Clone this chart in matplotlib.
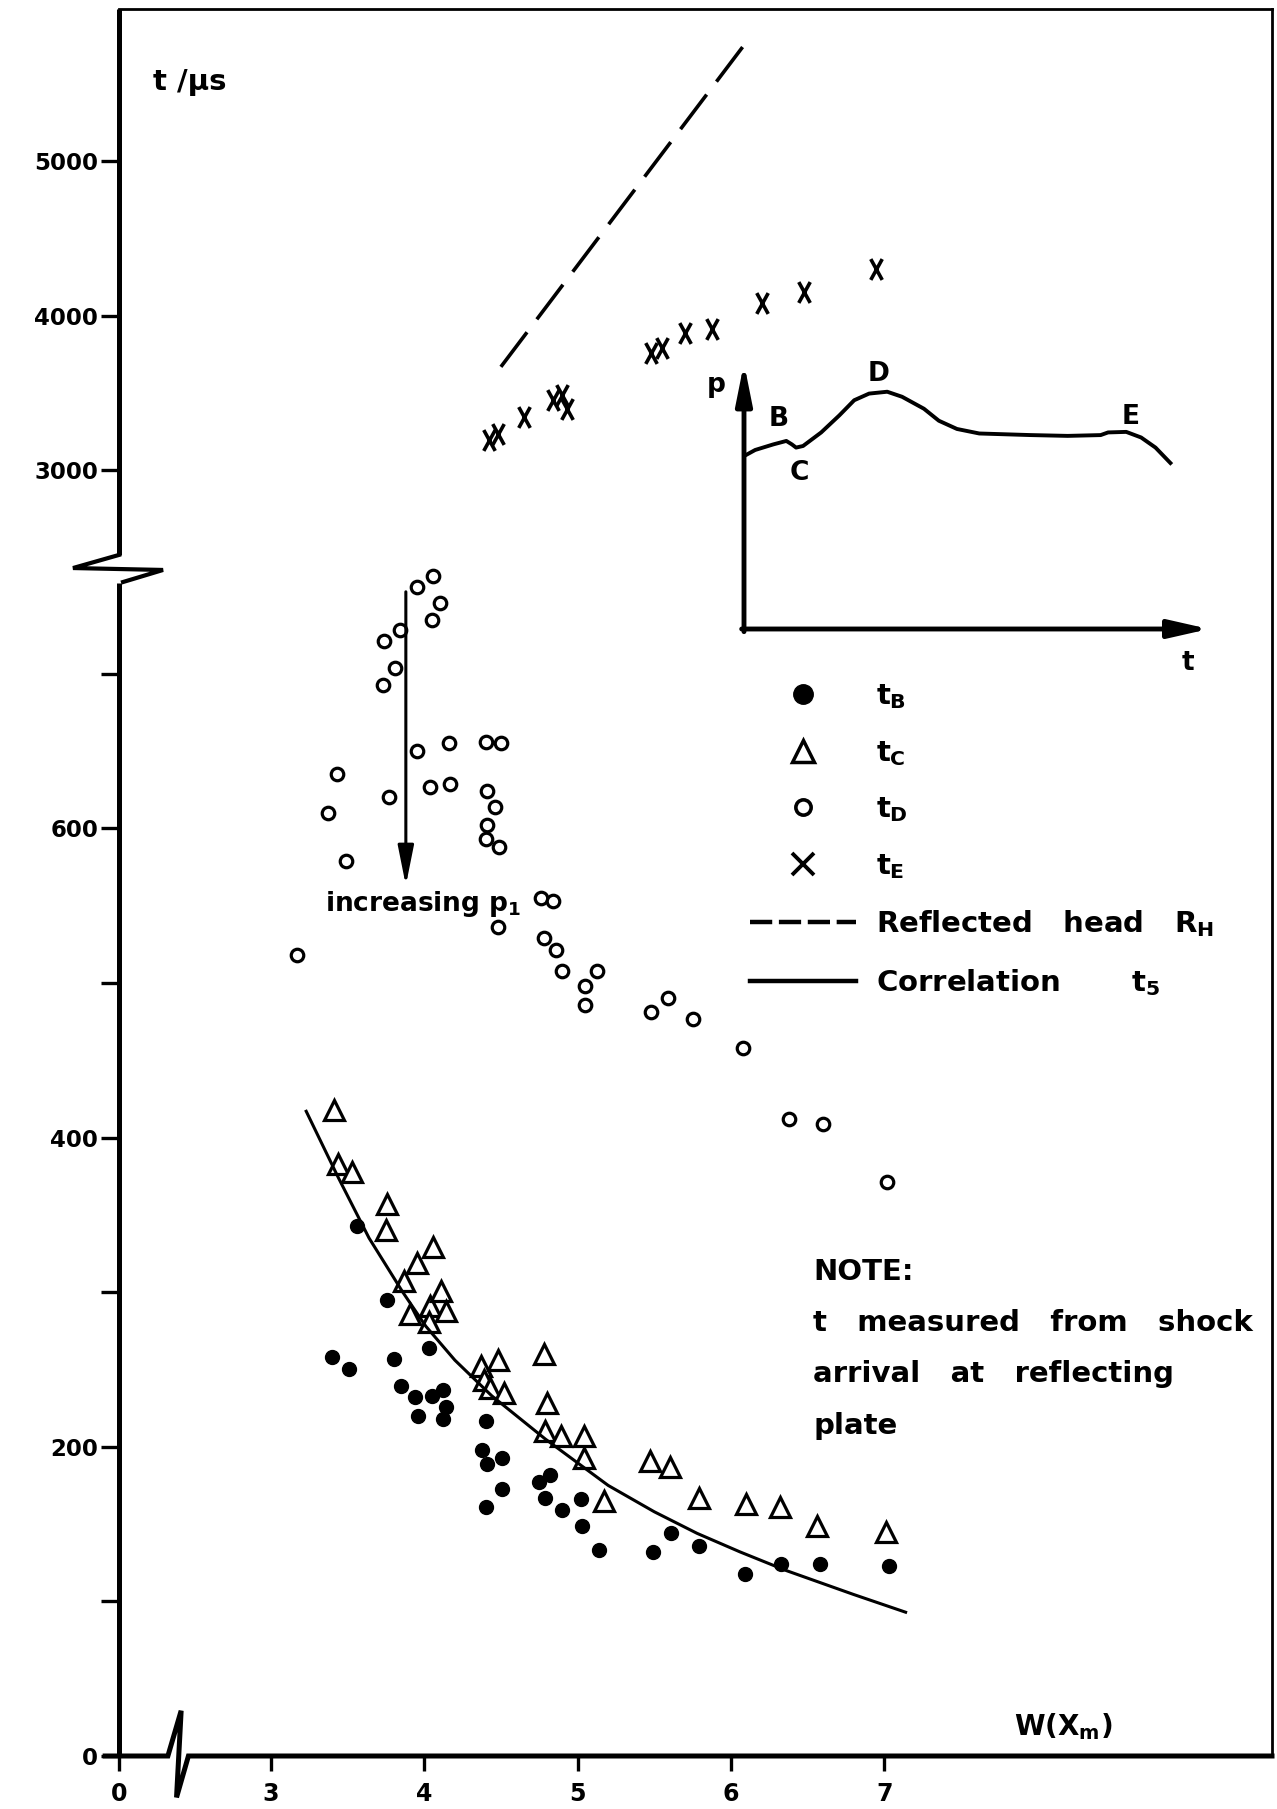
import numpy as np
import matplotlib
matplotlib.use('Agg')
import matplotlib.pyplot as plt
from matplotlib.path import Path
from matplotlib.lines import Line2D

plt.rcParams['font.family'] = 'DejaVu Sans'
plt.rcParams['font.weight'] = 'bold'
plt.rcParams['axes.labelweight'] = 'bold'
plt.rcParams['mathtext.fontset'] = 'custom'
plt.rcParams['mathtext.rm'] = 'DejaVu Sans:bold'
plt.rcParams['mathtext.it'] = 'DejaVu Sans:bold'
plt.rcParams['mathtext.bf'] = 'DejaVu Sans:bold'

# t_B : filled dots
wB = [3.56, 3.76, 3.40, 3.51, 3.80, 4.03, 3.85, 3.94, 4.05, 4.12, 4.14, 3.96, 4.12,
      4.40, 4.38, 4.41, 4.51, 4.75, 4.82, 4.51, 4.40, 4.79, 4.90, 5.02, 5.03, 5.14,
      5.49, 5.61, 5.79, 6.09, 6.33, 6.58, 7.03]
tB = [343, 295, 258, 250, 257, 264, 239, 232, 233, 237, 226, 220, 218,
      217, 198, 189, 193, 177, 182, 173, 161, 167, 159, 166, 149, 133,
      132, 144, 136, 118, 124, 124, 123]

# t_C : open triangles
wC = [3.41, 3.44, 3.53, 3.76, 3.75, 4.06, 3.95, 3.87, 3.91, 4.04, 4.11, 4.14, 4.03,
      4.37, 4.48, 4.39, 4.43, 4.52, 4.78, 4.80, 4.79, 4.89, 5.04, 5.04, 5.17, 5.47,
      5.60, 5.79, 6.10, 6.32, 6.56, 7.01]
tC = [418, 383, 378, 357, 340, 329, 319, 307, 286, 291, 301, 288, 281,
      252, 256, 243, 238, 235, 260, 228, 210, 207, 207, 193, 165, 191,
      187, 167, 163, 161, 149, 145]

# t_D : open circles
wD = [4.06, 3.95, 4.10, 4.05, 3.84, 3.74, 3.81, 3.73, 3.95, 4.16, 4.40, 4.50, 3.43,
      3.37, 3.77, 4.04, 4.17, 4.41, 4.46, 4.41, 4.40, 4.49, 3.49, 4.76, 4.84, 4.48,
      3.17, 4.78, 4.86, 4.90, 5.13, 5.05, 5.05, 5.48, 5.59, 5.75, 6.08, 6.38, 6.60, 7.02]
tD = [763, 756, 746, 735, 728, 721, 704, 693, 650, 655, 656, 655, 635,
      610, 620, 627, 629, 624, 614, 602, 593, 588, 579, 555, 553, 536,
      518, 529, 521, 508, 508, 498, 486, 481, 490, 477, 458, 412, 409, 371]

# t_E : crosses
wE = [4.42, 4.48, 4.65, 4.84, 4.90, 4.93, 5.48, 5.55, 5.70, 5.88, 6.20, 6.48, 6.95]
tE = [3195, 3228, 3340, 3452, 3486, 3396, 3754, 3788, 3889, 3912, 4080, 4151, 4303]

# reflected head R_H (dashed)
wRH = [4.50, 6.11]
tRH = [3667, 5787]

# correlation t_5 (solid)
w5 = [3.23, 3.44, 3.64, 3.86, 4.01, 4.20, 4.44, 4.79, 5.20, 5.50, 5.78, 6.06, 6.36, 6.80, 7.14]
t5 = [417, 374, 335, 300, 278, 256, 233, 205, 175, 158, 144, 132, 120, 104.5, 93]

# inset sketch p(t)
sk_t = [0.0, 0.024, 0.063, 0.091, 0.103, 0.112, 0.127, 0.166, 0.205, 0.237, 0.269, 0.308,
        0.340, 0.387, 0.419, 0.458, 0.506, 0.617, 0.696, 0.767, 0.783, 0.822, 0.854,
        0.885, 0.917]
sk_p = [0.650, 0.673, 0.694, 0.707, 0.694, 0.682, 0.688, 0.739, 0.803, 0.860, 0.885, 0.892,
        0.873, 0.828, 0.783, 0.752, 0.735, 0.729, 0.726, 0.729, 0.739, 0.741, 0.720,
        0.682, 0.624]

yticks = [0, 100, 200, 300, 400, 500, 600, 700, 3000, 4000, 5000]
ylabels = ['0', '', '200', '', '400', '', '600', '', '3000', '4000', '5000']
xticks = [0, 3, 4, 5, 6, 7]


# broken axes as piecewise linear scales
def piecewise(knots, pos):
    def fwd(v):
        return np.interp(v, knots, pos)

    def inv(v):
        return np.interp(v, pos, knots)
    return fwd, inv


yfun = piecewise([-1000, 0, 775, 2446, 8000], [-1340, 0, 1038.5, 1041, 1782.5])
xfun = piecewise([-10, 0, 0.32, 2.46, 20], [-1330, 0, 42.5, 60, 2392.8])

fig = plt.figure(figsize=(12.77, 18.09), dpi=100)
ax = fig.add_axes([119 / 1277, 1 - 1756 / 1809, 1153 / 1277, 1747 / 1809])
ax.set_facecolor('none')
ax.set_yscale('function', functions=yfun)
ax.set_xscale('function', functions=xfun)
ax.set_xlim(0, 9.53)
ax.set_ylim(0, 5990)

for s in ['left', 'bottom']:
    ax.spines[s].set_visible(False)
for s in ['top', 'right']:
    ax.spines[s].set_linewidth(2)

# left axis with break
ytr = ax.get_yaxis_transform()
ax.plot([0, 0], [0, 759], transform=ytr, color='k', lw=3.6, clip_on=False, solid_capstyle='butt')
ax.plot([0, 0], [2446, 5990], transform=ytr, color='k', lw=3.6, clip_on=False, solid_capstyle='butt')
ax.plot([0, -0.0399, 0.0382, 0.0035], [0.6875, 0.6800, 0.6789, 0.6720],
        transform=ax.transAxes, color='k', lw=3.0, clip_on=False, solid_joinstyle='miter')
# bottom axis with break
ax.plot([-0.012, 0.0424, 0.0539, 0.0499, 0.0602, 1.0], [0, 0, 0.0259, -0.0237, 0, 0],
        transform=ax.transAxes, color='k', lw=3.6, clip_on=False, solid_joinstyle='miter')

ax.set_yticks(yticks)
ax.set_yticklabels(ylabels)
ax.set_xticks(xticks)
ax.set_xticklabels([str(v) for v in xticks])
ax.tick_params(axis='y', direction='out', length=13, width=2.4, pad=2, labelsize=16.5)
ax.tick_params(axis='x', direction='out', length=11, width=2.4, pad=8, labelsize=17)

# data
xmark = Path([(-0.55, -1), (0.55, 1), (-0.55, 1), (0.55, -1)],
             [Path.MOVETO, Path.LINETO, Path.MOVETO, Path.LINETO])
ax.plot(wB, tB, ls='none', marker='o', ms=10, color='k')
ax.plot(wC, tC, ls='none', marker='^', ms=14, mfc='white', mec='k', mew=2.3)
ax.plot(wD, tD, ls='none', marker='o', ms=9, mfc='white', mec='k', mew=2.3)
ax.plot(wE, tE, ls='none', marker=xmark, ms=15, color='k', mew=2.6, fillstyle='none')
ax.plot(wRH, tRH, color='k', lw=2.6, ls=(0, (12, 4.5)))
ax.plot(w5, t5, color='k', lw=2.2)

# increasing p1 arrow
ax.annotate('', xy=(3.88, 563), xytext=(3.88, 753),
            arrowprops=dict(arrowstyle='-|>,head_length=1.1,head_width=0.22', lw=2.2,
                            color='k', shrinkA=0, shrinkB=0, mutation_scale=22))
ax.text(3.35, 551, r'increasing $p_1$', fontsize=19, ha='left', va='center')

# axis labels
ax.set_xlabel(r'W(X$_m$)', fontsize=20)
ax.xaxis.set_label_coords(0.819, 0.0166)
ax.xaxis.label.set_va('center')
ax.set_ylabel('t /μs', fontsize=21, rotation=0, ha='left', va='baseline')
ax.yaxis.set_label_coords(0.0295, 0.9538)

# legend
handles = [
    Line2D([], [], ls='none', marker='o', ms=14, color='k', label=r'$t_B$'),
    Line2D([], [], ls='none', marker='^', ms=16, mfc='white', mec='k', mew=2.5, label=r'$t_C$'),
    Line2D([], [], ls='none', marker='o', ms=11, mfc='white', mec='k', mew=2.6, label=r'$t_D$'),
    Line2D([], [], ls='none', marker='x', ms=16, color='k', mew=2.8, label=r'$t_E$'),
    Line2D([], [], color='k', lw=3.2, ls=(0, (5, 1.5)), label=r'Reflected   head   $R_H$'),
    Line2D([], [], color='k', lw=3.2, label=r'Correlation       $t_5$'),
]
ax.legend(handles=handles, loc='upper left', bbox_to_anchor=(0.547, 0.6145), frameon=False,
          fontsize=21, handlelength=3.64, handletextpad=0.7, labelspacing=0.95,
          borderpad=0, borderaxespad=0)

# note
note = ['NOTE:', 't   measured   from   shock', 'arrival   at   reflecting', 'plate']
for i, line in enumerate(note):
    ax.text(0.602, 0.2722 - i * 0.0292, line, transform=ax.transAxes, fontsize=21,
            ha='left', va='baseline')

# inset sketch
axi = fig.add_axes([744 / 1277, 1 - 629 / 1809, 465 / 1277, 266 / 1809])
axi.set_xlim(0, 1)
axi.set_ylim(0, 1)
axi.axis('off')
axi.annotate('', xy=(0, 1), xytext=(0, -0.01),
             arrowprops=dict(arrowstyle='-|>,head_length=1.1,head_width=0.22', lw=3.5,
                             color='k', shrinkA=0, shrinkB=0, mutation_scale=22))
axi.annotate('', xy=(1, 0), xytext=(-0.005, 0),
             arrowprops=dict(arrowstyle='-|>,head_length=1.1,head_width=0.25', lw=3.5,
                             color='k', shrinkA=0, shrinkB=0, mutation_scale=22))
axi.plot(sk_t, sk_p, color='k', lw=2.8)
for lab, tx, ty in [('p', -0.06, 0.917), ('t', 0.955, -0.126), ('B', 0.074, 0.791),
                    ('C', 0.119, 0.587), ('D', 0.290, 0.957), ('E', 0.831, 0.796)]:
    axi.text(tx, ty, lab, fontsize=19, ha='center', va='center')

fig.savefig('out.png', dpi=100)
